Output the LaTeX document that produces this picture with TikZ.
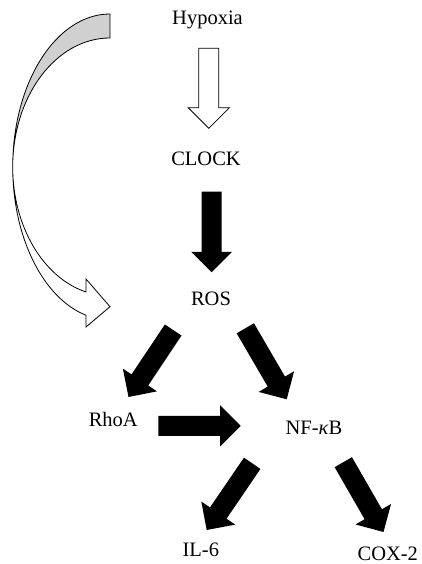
\documentclass[tikz,border=0pt]{standalone}
\usepackage{fontspec}
\setmainfont{Liberation Serif}
\usetikzlibrary{calc}

% block arrow from #2 to #3 (shaft half width 10pt, head half width 20.5pt, head length 20.5pt)
\newcommand{\blockarr}[3][]{%
  \coordinate (bahead) at ($(#3)!20.5pt!(#2)$);
  \path[#1] ($(#2)!10pt!90:(#3)$) -- ($(bahead)!10pt!90:(#3)$)
    -- ($(bahead)!20.5pt!90:(#3)$) -- (#3)
    -- ($(bahead)!20.5pt!-90:(#3)$) -- ($(bahead)!10pt!-90:(#3)$)
    -- ($(#2)!10pt!-90:(#3)$) -- cycle;
}

\definecolor{bandgray}{RGB}{208,208,208}

\begin{document}
\begin{tikzpicture}[x=1pt, y=1pt,
  label/.style={inner sep=0pt, anchor=base, font=\fontsize{20.5}{24}\selectfont},
  solidarrow/.style={fill=black},
  openarrow/.style={fill=white, draw=black, line width=0.8pt, line join=miter},
  band/.style={draw=black, line width=0.8pt}]
\useasboundingbox (0,0) rectangle (421,564);

% labels
\node[label] (hyp)   at (207.5,539)   {Hypoxia};
\node[label] (clock) at (206,398.3)   {CLOCK};
\node[label] (ros)   at (211,258)     {ROS};
\node[label] (rhoa)  at (113.3,137.3) {RhoA};
\node[label] (nfkb)  at (314,129.7)   {NF-\textit{κ}B};
\node[label] (il6)   at (200.8,7.3)   {IL-6};
\node[label] (cox2)  at (387.8,4)     {COX-2};

% arrow end points next to the labels
\coordinate (hyp-s)   at (208.8,515.7);
\coordinate (clock-e) at (208.8,435.7);
\coordinate (clock-s) at (211.7,372.3);
\coordinate (ros-e)   at (211.7,291.7);
\coordinate (ros-sl)  at (173.2,234);
\coordinate (rhoa-e)  at (128.5,167);
\coordinate (ros-sr)  at (245.3,235.7);
\coordinate (nfkb-e1) at (286.7,164.7);
\coordinate (rhoa-s)  at (158.3,138.2);
\coordinate (nfkb-e2) at (240.7,138.2);
\coordinate (nfkb-sl) at (252.2,100.7);
\coordinate (il6-e)   at (206.7,34);
\coordinate (nfkb-sr) at (343.3,101.8);
\coordinate (cox2-e)  at (383.5,32);

% straight block arrows
\blockarr[openarrow]{hyp-s}{clock-e}
\blockarr[solidarrow]{clock-s}{ros-e}
\blockarr[solidarrow]{ros-sl}{rhoa-e}
\blockarr[solidarrow]{ros-sr}{nfkb-e1}
\blockarr[solidarrow]{rhoa-s}{nfkb-e2}
\blockarr[solidarrow]{nfkb-sl}{il6-e}
\blockarr[solidarrow]{nfkb-sr}{cox2-e}

% curved arrow from hypoxia down to ROS
\coordinate (cc) at (110,397);
% upper, shaded part of the band
\path[band, fill=bandgray] ($(cc)+(90:97.3pt and 153pt)$)
  arc[start angle=90, end angle=180, x radius=97.3pt, y radius=153pt]
  arc[start angle=180, end angle=90, x radius=97.3pt, y radius=129pt]
  -- cycle;
% lower part of the band with its head
\path[band, fill=white, line join=miter] ($(cc)+(180:97.3pt and 153pt)$)
  arc[start angle=180, end angle=255.7, x radius=97.3pt, y radius=153pt]
  -- (86,237) -- (110,257.3) -- (86,285)
  -- ($(cc)+(255.7:97.3pt and 129pt)$)
  arc[start angle=255.7, end angle=180, x radius=97.3pt, y radius=129pt]
  -- cycle;
\end{tikzpicture}
\end{document}
